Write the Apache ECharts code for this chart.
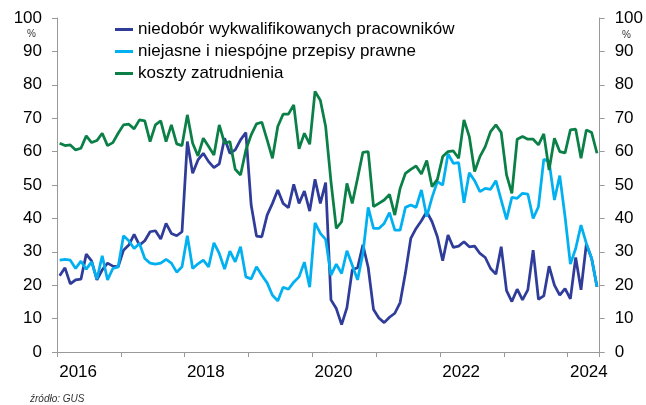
<!DOCTYPE html>
<html>
<head>
<meta charset="utf-8">
<script src="https://cdn.jsdelivr.net/npm/echarts@6/dist/echarts.min.js"></script>
<style>
  html, body { margin: 0; padding: 0; background: #fff; }
  #chart { width: 646px; height: 405px; }
</style>
</head>
<body>
<div id="chart"></div>
<script>
// monthly data, 2016-01 .. 2024-06
const firstYear = 2016;
const monthCount = 102;
const yearLabels = ['2016', '2018', '2020', '2022', '2024'];
const seriesNames = [
  'niedobór wykwalifikowanych pracowników',
  'niejasne i niespójne przepisy prawne',
  'koszty zatrudnienia'
];

const niedobor = [
  22.8, 25.2, 20.4, 21.6, 21.8, 29.3, 27.3, 21.6, 24.6, 26.6, 25.7, 25.5,
  30.5, 32, 35.2, 32, 33.3, 36, 36.3, 33.8, 38.5, 35.5, 34.8, 36,
  63, 53.5, 57.5, 59.5, 57, 55.2, 56.3, 64, 59.5, 60.5, 63.5, 65.7,
  44, 34.7, 34.5, 41, 44.5, 48.5, 44.5, 43.2, 50.2, 44.5, 48.2, 42.2,
  51.7, 44.5, 50.7, 15.6, 13, 8.2, 13.3, 24.6, 25.2, 32.1, 25.3, 12.7,
  10.2, 8.8, 10.4, 11.6, 14.8, 23.7, 34, 37, 39.3, 42, 39, 34.5,
  27.3, 35, 31.3, 31.7, 33, 31.5, 31.7, 29.5, 28.3, 25, 23.3, 31.5,
  18.4, 15.1, 18.8, 15.6, 18.6, 30.5, 15.8, 16.8, 25.7, 20, 17, 19,
  15.9, 28.3, 18.6, 32.3, 28, 19.5
];

const przepisy = [
  27.5, 27.7, 27.5, 25, 27.2, 24.8, 27, 21.8, 28.8, 21.6, 25, 25.5,
  34.8, 33.3, 31, 32.5, 28, 26.6, 26.3, 26.6, 27.7, 26.6, 23.9, 25.5,
  34.8, 25, 26.4, 27.5, 25.5, 32.7, 29.5, 24.8, 30.2, 27, 31.5, 22.5,
  21.9, 25.5, 23, 20.7, 17, 15.3, 19.4, 18.8, 20.9, 22.5, 26.9, 19.4,
  38.7, 35.5, 33.7, 23, 26.3, 23.5, 30.3, 26, 21.6, 29.5, 43.3, 37,
  37, 38.5, 41.7, 36.5, 36.5, 43.3, 44, 43.3, 48.5, 40.5, 46.3, 51,
  50, 59.3, 56.5, 56.7, 44.7, 53.7, 51.3, 48, 49, 48.7, 51.3, 45.5,
  39.7, 46.3, 46, 47.5, 47.3, 40, 43.5, 57.7, 57, 45.5, 52.8, 40.5,
  26.3, 31, 38, 32.5, 28, 19.5
];

const koszty = [
  62.5, 61.8, 62, 60.5, 61, 64.7, 62.7, 63.3, 65.5, 61.8, 62.7, 65.5,
  68, 68.2, 66.8, 69.5, 69.2, 63, 68, 69.2, 63, 68, 62.3, 61.8,
  71, 62.5, 58.7, 64, 61.5, 59, 68, 62.5, 63, 54.7, 53, 60.5,
  65, 68.3, 68.8, 63.5, 58, 67.5, 71.2, 71.2, 74, 60.8, 65.5, 62.2,
  78, 75.4, 67.5, 51, 37, 39, 50.5, 44.5, 52, 59.8, 60, 43.5,
  44.5, 45.5, 47.2, 41, 49, 53.5, 54.7, 55.7, 53.3, 57.3, 49.5, 51.7,
  58.5, 60, 60.2, 58, 69.5, 64.5, 54, 58.5, 61.5, 66, 68, 65.7,
  53, 47.5, 63.7, 64.5, 63.7, 63.7, 62, 65.3, 54.5, 64, 60, 59.6,
  66.5, 66.7, 58, 66.5, 65.7, 59.5
];

const colors = ['#2f3c99', '#00b0f0', '#0a7f46'];

const months = [];
for (let i = 0; i < monthCount; i++) {
  const y = firstYear + Math.floor(i / 12);
  const m = (i % 12) + 1;
  months.push(y + '-' + (m < 10 ? '0' + m : m));
}

const font = 'Liberation Sans, Arial, sans-serif';
const axisGray = '#999';

const chart = echarts.init(document.getElementById('chart'));

const yAxisBase = {
  type: 'value',
  min: 0,
  max: 100,
  interval: 10,
  splitLine: { show: false },
  axisLine: { show: true, lineStyle: { color: axisGray, width: 1 } },
  axisTick: { show: true, length: 5, lineStyle: { color: axisGray } },
  axisLabel: { color: '#000', fontSize: 17, fontFamily: font, margin: 15 }
};

const option = {
  animation: false,
  backgroundColor: '#fff',
  color: colors,
  grid: { left: 57, right: 46, top: 18, bottom: 53 },
  legend: {
    orient: 'vertical',
    left: 110,
    top: 16,
    itemGap: 5,
    itemWidth: 18,
    itemHeight: 3,
    icon: 'rect',
    data: seriesNames,
    textStyle: { color: '#000', fontSize: 17, fontFamily: font }
  },
  xAxis: {
    type: 'category',
    data: months,
    boundaryGap: true,
    axisLine: { lineStyle: { color: axisGray, width: 1 } },
    axisTick: {
      show: true,
      length: 5,
      interval: (index) => index % 12 === 0,
      lineStyle: { color: axisGray }
    },
    axisLabel: {
      interval: (index) => index % 24 === 3,
      formatter: (val) => {
        const y = val.slice(0, 4);
        return yearLabels.indexOf(y) >= 0 ? y : '';
      },
      color: '#000',
      fontSize: 17,
      fontFamily: font,
      margin: 12,
      padding: [0, 0, 0, 5]
    }
  },
  yAxis: [
    Object.assign({}, yAxisBase, { position: 'left' }),
    Object.assign({}, yAxisBase, { position: 'right' })
  ],
  graphic: [
    { type: 'text', left: 27, top: 29, style: { text: '%', fontSize: 10, fill: '#333', fontFamily: font } },
    { type: 'text', left: 622, top: 30, style: { text: '%', fontSize: 10, fill: '#333', fontFamily: font } },
    { type: 'text', left: 30, top: 394, style: { text: 'źródło: GUS', fontSize: 10, fontStyle: 'italic', fill: '#333', fontFamily: font } }
  ],
  series: [
    { name: seriesNames[0], type: 'line', data: niedobor, symbol: 'none', lineStyle: { width: 2.75, color: colors[0] } },
    { name: seriesNames[1], type: 'line', data: przepisy, symbol: 'none', lineStyle: { width: 2.75, color: colors[1] } },
    { name: seriesNames[2], type: 'line', data: koszty, symbol: 'none', lineStyle: { width: 2.75, color: colors[2] } }
  ]
};

chart.setOption(option);
</script>
</body>
</html>
